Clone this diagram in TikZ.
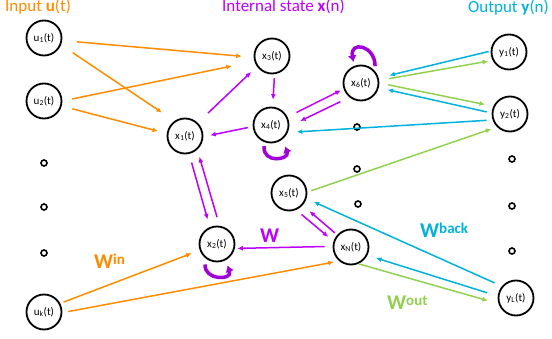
\documentclass[tikz,border=0pt]{standalone}
\usepackage{fontspec}
\setmainfont{Carlito}
\usepackage{xcolor}
\usepackage{tikz}
\usetikzlibrary{arrows.meta}

\definecolor{inorange}{RGB}{255,140,0}
\definecolor{respurple}{RGB}{190,0,255}
\definecolor{looppurple}{RGB}{160,0,215}
\definecolor{backcyan}{RGB}{0,178,220}
\definecolor{outgreen}{RGB}{146,208,80}

\newcommand{\weight}[1]{W\raisebox{4pt}{\fontsize{15}{15}\selectfont #1}}

\tikzset{
  neuron/.style={circle, draw, line width=1.8pt, minimum size=35pt, inner sep=0pt,
    font=\fontsize{11}{13}\selectfont},
  link/.style={line width=1.5pt, -{Latex[length=5.5pt,width=5pt]}},
  inlink/.style={link, inorange},
  reslink/.style={link, respurple},
  backlink/.style={link, backcyan},
  outlink/.style={link, outgreen},
  selfloop/.style={line width=3.5pt, looppurple, -{Latex[length=6.5pt,width=9pt]}},
  title/.style={anchor=base west, inner sep=0pt, font=\fontsize{17}{20}\selectfont},
  wlabel/.style={anchor=base west, inner sep=0pt, font=\fontsize{21}{24}\selectfont\bfseries},
  skipdot/.style={line width=1.6pt}
}

\begin{document}
\begin{tikzpicture}[x=1pt,y=-1pt]
\useasboundingbox (0,0) rectangle (552,339);
% titles
\node [title, inorange] at (5,12) {Input \textbf{u}(t)};
\node [title, respurple] at (222,12) {Internal state \textbf{x}(n)};
\node [title, backcyan] at (468,12.5) {Output \textbf{y}(n)};
% inputs
\node [neuron] (u1) at (44,38) {u\textsubscript{1}(t)};
\node [neuron] (u2) at (44,101) {u\textsubscript{2}(t)};
\node [neuron] (uk) at (44,312) {u\textsubscript{k}(t)};
\draw [skipdot] (44,163) circle (3);
\draw [skipdot] (44,207) circle (3);
\draw [skipdot] (44,253) circle (3);
% reservoir
\node [neuron] (x1) at (185,136) {x\textsubscript{1}(t)};
\node [neuron] (x2) at (217,244) {x\textsubscript{2}(t)};
\node [neuron] (x3) at (272,56) {x\textsubscript{3}(t)};
\node [neuron] (x4) at (271,125) {x\textsubscript{4}(t)};
\node [neuron] (x5) at (289,193) {x\textsubscript{5}(t)};
\node [neuron] (x6) at (361,83) {x\textsubscript{6}(t)};
\node [neuron] (xN) at (351,247) {x\textsubscript{N}(t)};
\draw [skipdot] (357,127) circle (3);
\draw [skipdot] (357,169) circle (3);
\draw [skipdot] (358,204) circle (3);
% outputs
\node [neuron] (y1) at (509,52) {y\textsubscript{1}(t)};
\node [neuron] (y2) at (510,114) {y\textsubscript{2}(t)};
\node [neuron] (yL) at (516,298) {y\textsubscript{L}(t)};
\draw [skipdot] (512,159) circle (3);
\draw [skipdot] (512,206) circle (3);
\draw [skipdot] (512,251) circle (3);
% input weights
\draw [inlink, shorten <=15pt, shorten >=12pt] (u1.-8) -- (x3.-176);
\draw [inlink, shorten <=14pt, shorten >=15pt] (u1.-22) -- (x1.125);
\draw [inlink, shorten <=10pt, shorten >=23pt] (u2.0) -- (x3.-163);
\draw [inlink, shorten <=11pt, shorten >=9pt] (u2.-16) -- (x1.172);
\draw [inlink, shorten <=3.5pt, shorten >=8.5pt] (uk.28) -- (x2.-160);
\draw [inlink, shorten <=6pt, shorten >=5.5pt] (uk.-2) -- (xN.-130);
% reservoir weights
\draw [reslink, shorten <=14pt, shorten >=8pt] (x1.46) -- (x3.-145);
\draw [reslink, shorten <=4pt, shorten >=7pt] (x3.-82) -- (x4.85);
\draw [reslink, shorten <=5pt, shorten >=7pt] (x4.-175) -- (x1.-2);
\draw [reslink, shorten <=10pt, shorten >=3pt] (x4.26) -- (x6.-161);
\draw [reslink, shorten <=10pt, shorten >=12pt] (x6.-129) -- (x4.-4);
\draw [reslink, shorten <=9pt, shorten >=8pt] (x1.-77) -- (x2.113);
\draw [reslink, shorten <=9pt, shorten >=7.5pt] (x2.82) -- (x1.-48);
\draw [reslink, shorten <=8pt, shorten >=2.5pt] (xN.178) -- (x2.-14);
\draw [reslink, shorten <=7pt, shorten >=7pt] (x5.-67) -- (xN.162);
\draw [reslink, shorten <=3pt, shorten >=9pt] (xN.139) -- (x5.-42);
\draw [selfloop, shorten <=5pt, shorten >=4pt] (x6.40) to [out=90, in=100, distance=26pt] (x6.112);
\draw [selfloop, shorten <=4pt, shorten >=7.5pt] (x4.-111) to [out=-95, in=-70, distance=22pt] (x4.-51);
\draw [selfloop, shorten <=6pt, shorten >=5.5pt] (x2.-128) to [out=-95, in=-70, distance=22pt] (x2.-62);
% feedback weights
\draw [backlink, shorten <=2pt, shorten >=11pt] (y1.177) -- (x6.16);
\draw [backlink, shorten <=5pt, shorten >=9pt] (y2.177) -- (x6.-15);
\draw [backlink, shorten <=6pt, shorten >=9pt] (y2.-161) -- (x4.-24);
\draw [backlink, shorten <=8pt, shorten >=8pt] (yL.140) -- (x5.-18);
\draw [backlink, shorten <=11pt, shorten >=9pt] (yL.174) -- (xN.-27);
% output weights
\draw [outlink, shorten <=10pt, shorten >=4.5pt] (x6.8) -- (y1.-153);
\draw [outlink, shorten <=9pt, shorten >=8.5pt] (x6.0) -- (y2.155);
\draw [outlink, shorten <=4pt, shorten >=6pt] (x5.3) -- (y2.-135);
\draw [outlink, shorten >=11pt] (xN.-66) -- (yL.-162);
% weight labels
\node [wlabel, inorange] at (94,269) {\weight{in}};
\node [wlabel, respurple] at (260,243) {W};
\node [wlabel, backcyan] at (420,238) {\weight{back}};
\node [wlabel, outgreen] at (387,310) {\weight{out}};
\end{tikzpicture}
\end{document}
